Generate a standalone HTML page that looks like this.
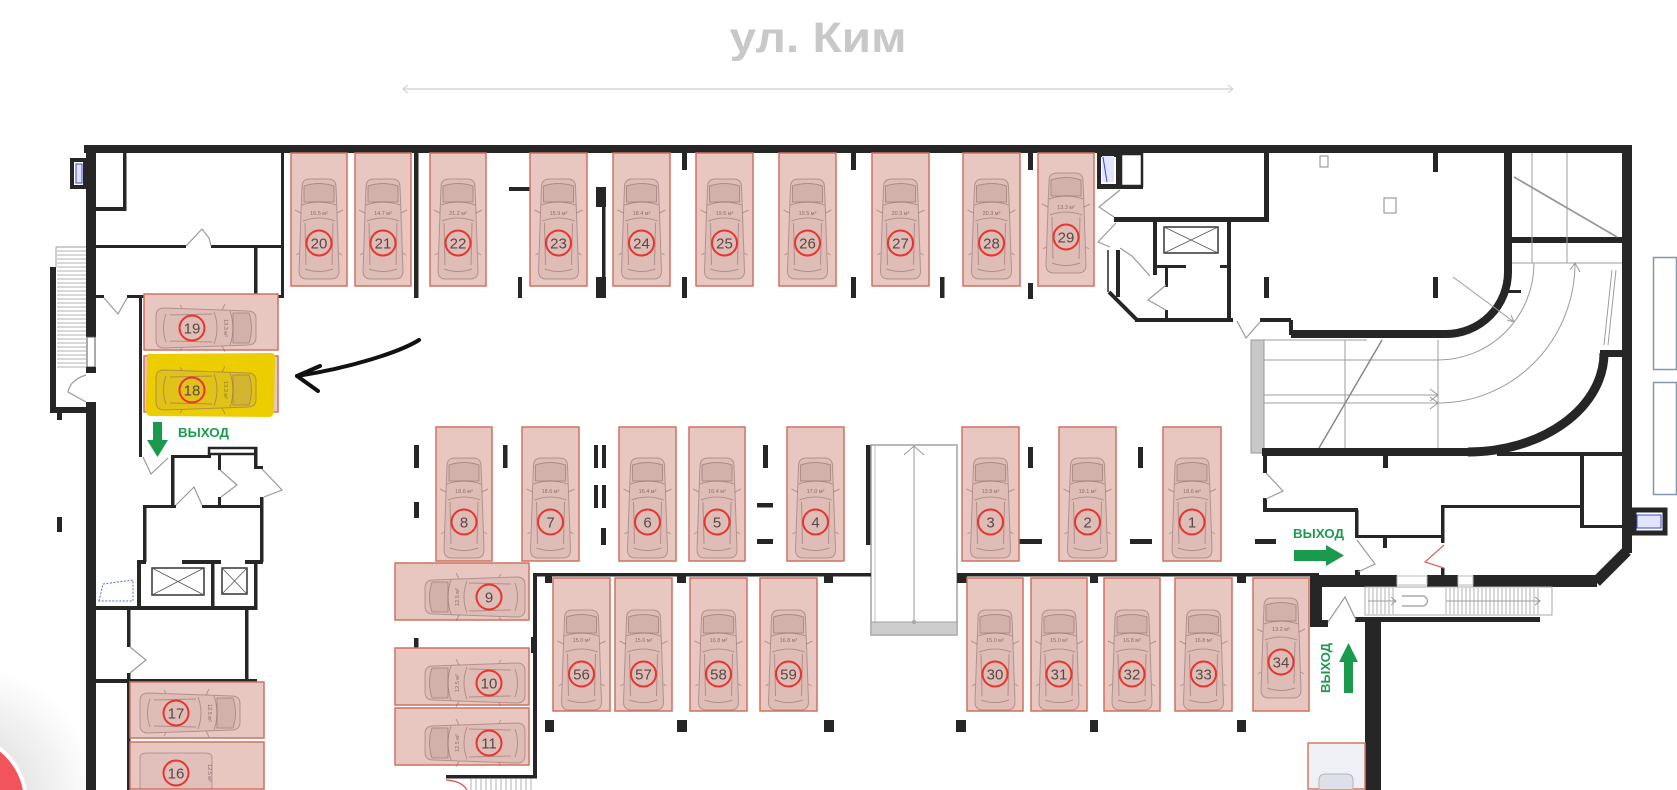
<!DOCTYPE html>
<html><head><meta charset="utf-8">
<style>
html,body{margin:0;padding:0;background:#fff;width:1677px;height:790px;overflow:hidden;}
svg{display:block;position:absolute;left:0;top:0;overflow:hidden;}
.sp{fill:#e9c7c1;stroke:#cf7260;stroke-width:1.5;}
.ci{fill:none;stroke:#e8342e;stroke-width:2;}
.nu{font-family:"Liberation Sans",sans-serif;font-size:15px;fill:#5a4646;text-anchor:middle;}
.ar{font-family:"Liberation Sans",sans-serif;font-size:5.5px;fill:#8a6e6c;text-anchor:middle;}
.w{fill:#262626;}
.dr{fill:none;stroke:#9a9a9a;stroke-width:1.2;}
.th{stroke:#9c9c9c;stroke-width:1;fill:none;}
.ex{font-family:"Liberation Sans",sans-serif;font-size:13px;font-weight:bold;fill:#1e9a50;}
</style></head>
<body>
<svg width="1677" height="790" viewBox="0 0 1677 790" xmlns="http://www.w3.org/2000/svg">
<defs>
<g id="car" fill="none" stroke="#8a6866" stroke-opacity="0.55" stroke-width="1">
  <path d="M-17 -56 Q-17 -64 -9 -64 L9 -64 Q17 -64 17 -56 L18 -30 L20 28 Q20 36 12 36 L-12 36 Q-20 36 -20 28 L-18 -30 Z" fill="#b08e8c" fill-opacity="0.18"/>
  <path d="M-15 -57 Q0 -62 15 -57 L15 -41 L-15 -41 Z" fill="#a88886" fill-opacity="0.22"/>
  <path d="M-17 -38 Q0 -44 17 -38"/>
  <path d="M-16 -22 Q0 -28 16 -22"/>
  <path d="M-18 -30 L-24 -33 M18 -30 L24 -33"/>
  <path d="M-14 -20 L-13 22 M14 -20 L13 22"/>
  <path d="M-14 26 Q0 31 14 26"/>
  <path d="M-20 10 L-23 12 M20 10 L23 12"/>
</g>
<radialGradient id="sh" gradientUnits="userSpaceOnUse" cx="-41" cy="802" r="140">
  <stop offset="0.45" stop-color="#000" stop-opacity="0.10"/>
  <stop offset="1" stop-color="#000" stop-opacity="0"/>
</radialGradient>
</defs>

<!-- floating button bottom-left (kept inside frame) -->
<rect x="0" y="660" width="100" height="130" fill="url(#sh)"/>
<path d="M0 746.5 A69 69 0 0 1 26.9 790 L0 790 Z" fill="#fff"/>
<path d="M0 751.6 A65 65 0 0 1 22.9 790 L0 790 Z" fill="#f2545c"/>

<!-- title -->
<text x="818" y="52" text-anchor="middle" font-family="Liberation Sans, sans-serif" font-weight="bold" font-size="43" fill="#c8c8c8" textLength="177" lengthAdjust="spacingAndGlyphs">ул. Ким</text>
<line x1="403" y1="89" x2="1233" y2="89" stroke="#d6d6d6" stroke-width="1.5"/>
<path d="M408 85 L403 89 L408 93 M1228 85 L1233 89 L1228 93" stroke="#d6d6d6" stroke-width="1.2" fill="none"/>

<!-- outer walls -->
<rect class="w" x="84" y="145" width="1548" height="8"/>
<rect class="w" x="86" y="145" width="10" height="192"/>
<rect x="87" y="337" width="8" height="30" fill="#fff" stroke="#555" stroke-width="1"/>
<rect class="w" x="86" y="367" width="10" height="6"/>
<rect class="w" x="86" y="402" width="10" height="388"/>
<rect class="w" x="1622" y="145" width="10" height="408"/>
<path d="M1627 551 L1596 582" stroke="#262626" stroke-width="11" fill="none"/>
<rect x="72" y="160" width="13" height="27" fill="#fff" stroke="#262626" stroke-width="4"/>
<rect x="76" y="164" width="6" height="19" fill="#e0e3ff" stroke="#3a4ad0" stroke-width="1"/>

<!-- top-left interior -->
<rect class="w" x="123" y="153" width="3.5" height="58"/>
<rect class="w" x="96" y="207" width="30" height="4"/>
<rect class="w" x="96" y="245" width="90" height="3"/>
<rect class="w" x="211" y="245" width="73" height="3"/>
<rect class="w" x="254" y="245" width="3.5" height="51"/>
<rect class="w" x="281" y="153" width="3" height="145"/>
<rect class="w" x="96" y="295" width="8" height="3"/>
<rect class="w" x="127" y="295" width="157" height="3"/>
<rect class="w" x="139" y="296" width="3" height="161"/>

<!-- left stairs -->
<rect class="w" x="50" y="267" width="6" height="146"/>
<rect class="w" x="50" y="407" width="36" height="6"/>
<rect class="w" x="57" y="413" width="5" height="7"/>
<path class="th" d="M56 247 H86 M56 247 V267"/>
<path stroke="#b0b0b0" stroke-width="1" d="M57 251H86M57 255H86M57 259H86M57 263H86M57 267H86M57 271H86M57 275H86M57 279H86M57 283H86M57 287H86M57 291H86M57 295H86M57 299H86M57 303H86M57 307H86M57 311H86M57 315H86M57 319H86M57 323H86M57 327H86M57 331H86M57 335H86M57 339H86M57 343H86M57 347H86M57 351H86M57 355H86M57 359H86M57 363H86M57 367H86"/>
<rect class="w" x="57" y="517" width="5" height="15"/>

<!-- lower-left rooms -->
<rect class="w" x="171" y="455" width="40" height="3"/>
<rect x="209" y="448" width="47" height="6" fill="#fff" stroke="#262626" stroke-width="2.5"/>
<rect class="w" x="254" y="447" width="3.5" height="22"/>
<rect class="w" x="254" y="466" width="9" height="3"/>
<rect class="w" x="171" y="455" width="3.5" height="52"/>
<rect class="w" x="218" y="455" width="3" height="15"/>
<rect class="w" x="218" y="497" width="3" height="10"/>
<rect class="w" x="143" y="505" width="33" height="3"/>
<rect class="w" x="202" y="505" width="61" height="3"/>
<rect class="w" x="143" y="505" width="3.5" height="57"/>
<rect class="w" x="260" y="497" width="3.5" height="65"/>
<rect class="w" x="137" y="560" width="9" height="4"/>
<rect class="w" x="182" y="560" width="39" height="4"/>
<rect class="w" x="245" y="560" width="18" height="4"/>
<rect class="w" x="137" y="560" width="4" height="48"/>
<rect class="w" x="211" y="562" width="3.5" height="46"/>
<rect class="w" x="254" y="560" width="3.5" height="50"/>
<rect x="152" y="568" width="52" height="27" fill="#fff" stroke="#333" stroke-width="1.5"/>
<path d="M152 568 L204 595 M204 568 L152 595" stroke="#555" stroke-width="0.8"/>
<rect x="222" y="568" width="25" height="26" fill="#fff" stroke="#333" stroke-width="1.5"/>
<path d="M222 568 L247 594 M247 568 L222 594" stroke="#555" stroke-width="0.8"/>
<rect class="w" x="86" y="606" width="171" height="4"/>
<path d="M99 601 L103 584 L133 580 L133 601 Z" fill="none" stroke="#5a6ae0" stroke-width="1" stroke-dasharray="2 1.5"/>
<rect class="w" x="127" y="610" width="3.5" height="37"/>
<rect class="w" x="127" y="673" width="3.5" height="10"/>
<rect class="w" x="245" y="610" width="3.5" height="70"/>
<rect class="w" x="86" y="679" width="171" height="4"/>
<rect class="w" x="127" y="683" width="3.5" height="107"/>

<!-- middle dashes -->
<rect class="w" x="414" y="445" width="5" height="23"/>
<rect class="w" x="414" y="502" width="5" height="16"/>
<rect class="w" x="503" y="445" width="4.5" height="23"/>
<rect class="w" x="594" y="445" width="4" height="23"/>
<rect class="w" x="602" y="445" width="4" height="23"/>
<rect class="w" x="594" y="485" width="4" height="23"/>
<rect class="w" x="602" y="485" width="4" height="23"/>
<rect class="w" x="601" y="528" width="5" height="17"/>
<rect class="w" x="763" y="445" width="5" height="23"/>
<rect class="w" x="757" y="503" width="16" height="4.5"/>
<rect class="w" x="757" y="539" width="16" height="5"/>
<rect class="w" x="1028" y="447" width="5" height="21"/>
<rect class="w" x="1138" y="447" width="5" height="21"/>
<rect class="w" x="1019" y="539" width="23" height="5"/>
<rect class="w" x="1130" y="539" width="22" height="5"/>
<rect class="w" x="1255" y="539" width="21" height="5"/>

<!-- ramp -->
<rect class="w" x="866" y="445" width="6" height="100"/>
<rect x="871" y="445" width="86" height="190" fill="#fff" stroke="#a0a0a0" stroke-width="1.5"/>
<line x1="875" y1="446" x2="875" y2="622" stroke="#c0c0c0" stroke-width="1"/>
<rect x="871" y="622" width="86" height="13" fill="#cdcdcd" stroke="#a0a0a0" stroke-width="1"/>
<line x1="914" y1="446" x2="914" y2="622" stroke="#999" stroke-width="1"/>
<path d="M904 455 L914 446 L924 455" fill="none" stroke="#999" stroke-width="1"/>
<circle cx="914" cy="622" r="1.5" fill="none" stroke="#999" stroke-width="0.8"/>

<!-- middle walls & pillars -->
<rect class="w" x="534" y="573" width="337" height="3.5"/>
<rect class="w" x="957" y="573" width="362" height="3.5"/>
<rect class="w" x="545" y="576" width="7" height="7"/>
<rect class="w" x="677" y="576" width="9" height="7"/>
<rect class="w" x="824" y="576" width="9" height="7"/>
<rect class="w" x="957" y="576" width="10" height="7"/>
<rect class="w" x="1090" y="576" width="8" height="7"/>
<rect class="w" x="1237" y="576" width="9" height="7"/>
<rect class="w" x="545" y="720" width="9" height="12"/>
<rect class="w" x="677" y="720" width="10" height="12"/>
<rect class="w" x="824" y="720" width="10" height="12"/>
<rect class="w" x="956" y="720" width="10" height="12"/>
<rect class="w" x="1090" y="720" width="8" height="12"/>
<rect class="w" x="1237" y="720" width="9" height="12"/>
<rect class="w" x="533" y="573" width="4" height="205"/>
<rect class="w" x="531" y="637" width="6" height="16"/>
<rect class="w" x="446" y="775" width="91" height="3.5"/>
<path stroke="#b0b0b0" stroke-width="1" d="M471 779V790M476 779V790M481 779V790M486 779V790M491 779V790M496 779V790M501 779V790M506 779V790M511 779V790M516 779V790M521 779V790M526 779V790M531 779V790"/>
<path d="M446 780 Q462 781 467 790" fill="none" stroke="#e05050" stroke-width="1.2"/>
<rect class="w" x="414" y="638" width="4.5" height="14"/>

<!-- top row stubs -->
<rect class="w" x="414" y="153" width="4.5" height="145"/>
<rect class="w" x="509" y="187" width="21" height="4"/>
<rect class="w" x="518" y="277" width="4" height="21"/>
<rect class="w" x="602" y="187" width="3.5" height="111"/>
<rect class="w" x="596" y="187" width="10" height="20"/>
<rect class="w" x="596" y="277" width="10" height="21"/>
<rect class="w" x="682" y="153" width="5" height="17"/>
<rect class="w" x="851" y="153" width="5" height="17"/>
<rect class="w" x="1028" y="153" width="5" height="17"/>
<rect class="w" x="682" y="277" width="5" height="21"/>
<rect class="w" x="851" y="277" width="5" height="21"/>
<rect class="w" x="940" y="277" width="4.5" height="21"/>
<rect class="w" x="1028" y="283" width="5" height="16"/>

<!-- right of 29 -->
<rect x="1099" y="155" width="19" height="31" fill="#fff" stroke="#262626" stroke-width="4"/>
<rect x="1102" y="156" width="12" height="26" fill="#e2e5ff"/>
<path d="M1103 157 L1107 182" stroke="#3a4ad0" stroke-width="1"/>
<rect x="1121" y="154" width="21" height="32" fill="#fff" stroke="#262626" stroke-width="2.5"/>
<rect class="w" x="1097" y="186" width="46" height="3"/>
<rect class="w" x="1114" y="217" width="155" height="5"/>
<rect class="w" x="1264" y="153" width="5" height="69"/>
<rect class="w" x="1153" y="222" width="4" height="53"/>
<rect class="w" x="1157" y="265" width="29" height="3"/>
<rect class="w" x="1220" y="265" width="7" height="3"/>
<rect class="w" x="1227" y="222" width="4" height="98"/>
<rect x="1164" y="227" width="54" height="26" fill="#fff" stroke="#333" stroke-width="1.5"/>
<path d="M1164 227 L1218 253 M1218 227 L1164 253" stroke="#555" stroke-width="0.8"/>
<rect class="w" x="1165" y="268" width="3" height="19"/>
<rect class="w" x="1165" y="310" width="3" height="10"/>
<rect class="w" x="1135" y="318" width="98" height="4"/>
<rect class="w" x="1260" y="318" width="31" height="4"/>
<path d="M1109 292 L1137 320" stroke="#262626" stroke-width="4"/>
<line x1="1108" y1="250" x2="1108" y2="292" stroke="#262626" stroke-width="1.5"/>
<rect class="w" x="1116" y="250" width="4" height="47"/>
<rect class="w" x="1289" y="320" width="4" height="15"/>
<rect class="w" x="1291" y="330" width="155" height="8"/>
<path d="M1446 334 A62 62 0 0 0 1508 272" stroke="#262626" stroke-width="8" fill="none"/>
<rect class="w" x="1504" y="153" width="8" height="120"/>
<rect class="w" x="1433" y="153" width="5" height="19"/>
<rect class="w" x="1264" y="277" width="5" height="21"/>
<rect class="w" x="1433" y="277" width="5" height="21"/>
<rect x="1320" y="156" width="8" height="11" fill="none" stroke="#888" stroke-width="1"/>
<rect x="1384" y="198" width="12" height="15" fill="none" stroke="#888" stroke-width="1"/>
<rect class="w" x="1508" y="290" width="13" height="3"/>
<!-- right room -->
<rect class="w" x="1512" y="237" width="110" height="6"/>
<path class="th" d="M1532 153 V263 M1567 153 V263 M1512 263 H1622"/>
<path d="M1514 177 L1617 237" stroke="#999" stroke-width="1.8"/>
<!-- curved ramp -->
<rect x="1251" y="340" width="13" height="113" fill="#c8c8c8" stroke="#999" stroke-width="1"/>
<path class="th" d="M1264 340 H1367 M1264 360 H1438 M1264 395 H1438 M1264 403 H1438 M1345 340 V448 M1438 340 V448"/>
<path d="M1430 389 L1438 395 L1430 401 M1430 397 L1438 403 L1430 409" fill="none" stroke="#999" stroke-width="1"/>
<path d="M1382 340 L1319 448" stroke="#888" stroke-width="1.5"/>
<path class="th" d="M1438 360 A96 97 0 0 0 1534 263"/>
<path class="th" d="M1438 403 A137 140 0 0 0 1575 263"/>
<path d="M1570 270 L1575 263 L1580 272" fill="none" stroke="#999" stroke-width="1"/>
<path class="th" d="M1453 277 L1514 322 M1507 320 L1514 322 L1511 315"/>
<path class="th" d="M1612 270 L1604 345 M1616 270 L1608 345"/>
<rect class="w" x="1600" y="350" width="22" height="7"/>
<path d="M1604 353 A136 99 0 0 1 1468 452" stroke="#262626" stroke-width="9" fill="none"/>
<rect class="w" x="1262" y="448" width="206" height="8"/>
<rect class="w" x="1383" y="455" width="5" height="13"/>
<rect class="w" x="1497" y="452" width="125" height="4"/>
<rect class="w" x="1580" y="455" width="4" height="73"/>
<rect class="w" x="1580" y="525" width="42" height="3"/>
<rect class="w" x="1442" y="505" width="138" height="3"/>
<rect class="w" x="1441" y="505" width="3.5" height="38"/>
<rect class="w" x="1441" y="568" width="3.5" height="8"/>
<rect class="w" x="1263" y="448" width="4" height="25"/>
<rect class="w" x="1263" y="498" width="4" height="14"/>
<rect class="w" x="1263" y="508" width="95" height="4"/>
<rect class="w" x="1355" y="510" width="3.5" height="28"/>
<rect class="w" x="1355" y="535" width="89" height="3"/>
<rect class="w" x="1383" y="537" width="4" height="11"/>
<rect class="w" x="1355" y="570" width="5" height="6"/>
<rect class="w" x="1310" y="575" width="87" height="12"/>
<rect class="w" x="1427" y="575" width="31" height="12"/>
<rect class="w" x="1473" y="575" width="124" height="12"/>
<rect x="1397" y="576" width="30" height="9" fill="#fff" stroke="#bbb" stroke-width="1"/>
<rect x="1458" y="576" width="15" height="9" fill="#fff" stroke="#bbb" stroke-width="1"/>
<rect class="w" x="1310" y="575" width="12" height="52"/>
<rect class="w" x="1310" y="620" width="18" height="7"/>
<rect class="w" x="1355" y="617" width="185" height="5"/>
<rect class="w" x="1365" y="617" width="16" height="173"/>
<!-- bottom stairs -->
<rect x="1365" y="587" width="187" height="28" fill="none" stroke="#aaa" stroke-width="1"/>
<path stroke="#aaa" stroke-width="0.9" d="M1369 588V614M1373 588V614M1377 588V614M1381 588V614M1385 588V614M1389 588V614M1393 588V614M1446 588V614M1450 588V614M1454 588V614M1458 588V614M1462 588V614M1466 588V614M1470 588V614M1474 588V614M1478 588V614M1482 588V614M1486 588V614M1490 588V614M1494 588V614M1498 588V614M1502 588V614M1506 588V614M1510 588V614M1514 588V614M1518 588V614M1522 588V614M1526 588V614M1530 588V614M1534 588V614M1538 588V614"/>
<path class="th" d="M1368 601 H1396 M1391 597 L1396 601 L1391 605 M1446 601 H1540 M1535 597 L1540 601 L1535 605"/>
<path d="M1402 596 H1424 Q1431 601 1424 606 H1402" fill="none" stroke="#999" stroke-width="1.2"/>
<!-- right notch & boxes -->
<rect x="1634" y="510" width="31" height="23" fill="#fff" stroke="#262626" stroke-width="5"/>
<rect x="1637" y="515" width="24" height="13" fill="#e2e5ff" stroke="#3a4ad0" stroke-width="1"/>
<rect x="1653.5" y="257.5" width="23" height="112" fill="none" stroke="#8496ac" stroke-width="1.5"/>
<rect x="1653.5" y="382.5" width="23" height="112" fill="none" stroke="#8496ac" stroke-width="1.5"/>

<!-- doors -->
<path class="dr" d="M186 246 L202 229 L209 238 L211 246"/>
<path class="dr" d="M104 298 L118 314 L127 298"/>
<path class="dr" d="M86 375 Q70 380 68 392 L86 402"/>
<path class="dr" d="M143 457 L151 474 L168 458"/>
<path class="dr" d="M176 505 L194 487 L202 505"/>
<path class="dr" d="M220 470 L237 485 L221 497"/>
<path class="dr" d="M262 469 L282 490 L264 497"/>
<path class="dr" d="M130 647 L146 660 L130 673"/>
<path class="dr" d="M1120 190 L1099 207 L1114 217"/>
<path class="dr" d="M1116 223 L1098 242 L1110 247"/>
<path class="dr" d="M1120 248 L1132 256 L1150 276"/>
<path class="dr" d="M1166 285 L1148 300 L1166 310"/>
<path class="dr" d="M1237 321 L1246 338 L1260 322"/>
<path class="dr" d="M1266 473 L1283 491 L1266 499"/>
<path class="dr" d="M1357 540 L1375 564 L1358 572"/>
<path d="M1444 545 L1425 562 L1444 568" fill="none" stroke="#e06060" stroke-width="1.2"/>
<path class="dr" d="M1328 622 L1345 597 L1356 620"/>

<!-- ===== SPOTS row 1 ===== -->
<g>
<rect class="sp" x="291" y="153" width="56" height="133"/><use href="#car" x="319" y="243"/><text class="ar" x="319" y="215">16.5 м²</text><circle class="ci" cx="319" cy="243" r="12.5"/><text class="nu" x="319" y="248.5">20</text>
<rect class="sp" x="355" y="153" width="56" height="133"/><use href="#car" x="383" y="243"/><text class="ar" x="383" y="215">14.7 м²</text><circle class="ci" cx="383" cy="243" r="12.5"/><text class="nu" x="383" y="248.5">21</text>
<rect class="sp" x="430" y="153" width="56" height="133"/><use href="#car" x="458" y="243"/><text class="ar" x="458" y="215">21.2 м²</text><circle class="ci" cx="458" cy="243" r="12.5"/><text class="nu" x="458" y="248.5">22</text>
<rect class="sp" x="530" y="153" width="57" height="133"/><use href="#car" x="558.5" y="243"/><text class="ar" x="558.5" y="215">15.9 м²</text><circle class="ci" cx="558.5" cy="243" r="12.5"/><text class="nu" x="558.5" y="248.5">23</text>
<rect class="sp" x="613" y="153" width="57" height="133"/><use href="#car" x="641.5" y="243"/><text class="ar" x="641.5" y="215">18.4 м²</text><circle class="ci" cx="641.5" cy="243" r="12.5"/><text class="nu" x="641.5" y="248.5">24</text>
<rect class="sp" x="696" y="153" width="57" height="133"/><use href="#car" x="724.5" y="243"/><text class="ar" x="724.5" y="215">19.5 м²</text><circle class="ci" cx="724.5" cy="243" r="12.5"/><text class="nu" x="724.5" y="248.5">25</text>
<rect class="sp" x="779" y="153" width="57" height="133"/><use href="#car" x="807.5" y="243"/><text class="ar" x="807.5" y="215">19.5 м²</text><circle class="ci" cx="807.5" cy="243" r="12.5"/><text class="nu" x="807.5" y="248.5">26</text>
<rect class="sp" x="872" y="153" width="57" height="133"/><use href="#car" x="900.5" y="243"/><text class="ar" x="900.5" y="215">20.3 м²</text><circle class="ci" cx="900.5" cy="243" r="12.5"/><text class="nu" x="900.5" y="248.5">27</text>
<rect class="sp" x="963" y="153" width="57" height="133"/><use href="#car" x="991.5" y="243"/><text class="ar" x="991.5" y="215">20.3 м²</text><circle class="ci" cx="991.5" cy="243" r="12.5"/><text class="nu" x="991.5" y="248.5">28</text>
<rect class="sp" x="1038" y="153" width="56" height="133"/><use href="#car" x="1066" y="237"/><text class="ar" x="1066" y="209">13.3 м²</text><circle class="ci" cx="1066" cy="237" r="12.5"/><text class="nu" x="1066" y="242.5">29</text>
</g>

<!-- row 2 -->
<g>
<rect class="sp" x="436" y="427" width="56" height="134"/><use href="#car" x="464" y="522"/><text class="ar" x="464" y="493">18.6 м²</text><circle class="ci" cx="464" cy="522" r="12.5"/><text class="nu" x="464" y="527.5">8</text>
<rect class="sp" x="522" y="427" width="57" height="134"/><use href="#car" x="550.5" y="522"/><text class="ar" x="550.5" y="493">18.6 м²</text><circle class="ci" cx="550.5" cy="522" r="12.5"/><text class="nu" x="550.5" y="527.5">7</text>
<rect class="sp" x="619" y="427" width="57" height="134"/><use href="#car" x="647.5" y="522"/><text class="ar" x="647.5" y="493">16.4 м²</text><circle class="ci" cx="647.5" cy="522" r="12.5"/><text class="nu" x="647.5" y="527.5">6</text>
<rect class="sp" x="689" y="427" width="56" height="134"/><use href="#car" x="717" y="522"/><text class="ar" x="717" y="493">16.4 м²</text><circle class="ci" cx="717" cy="522" r="12.5"/><text class="nu" x="717" y="527.5">5</text>
<rect class="sp" x="787" y="427" width="57" height="134"/><use href="#car" x="815.5" y="522"/><text class="ar" x="815.5" y="493">17.0 м²</text><circle class="ci" cx="815.5" cy="522" r="12.5"/><text class="nu" x="815.5" y="527.5">4</text>
<rect class="sp" x="962" y="427" width="57" height="134"/><use href="#car" x="990.5" y="522"/><text class="ar" x="990.5" y="493">13.8 м²</text><circle class="ci" cx="990.5" cy="522" r="12.5"/><text class="nu" x="990.5" y="527.5">3</text>
<rect class="sp" x="1059" y="427" width="57" height="134"/><use href="#car" x="1087.5" y="522"/><text class="ar" x="1087.5" y="493">19.1 м²</text><circle class="ci" cx="1087.5" cy="522" r="12.5"/><text class="nu" x="1087.5" y="527.5">2</text>
<rect class="sp" x="1163" y="427" width="58" height="134"/><use href="#car" x="1192" y="522"/><text class="ar" x="1192" y="493">18.6 м²</text><circle class="ci" cx="1192" cy="522" r="12.5"/><text class="nu" x="1192" y="527.5">1</text>
</g>

<!-- row 3 -->
<g>
<rect class="sp" x="553" y="578" width="57" height="133"/><use href="#car" x="581.5" y="674"/><text class="ar" x="581.5" y="642">15.0 м²</text><circle class="ci" cx="581.5" cy="674" r="12.5"/><text class="nu" x="581.5" y="679.5">56</text>
<rect class="sp" x="615" y="578" width="57" height="133"/><use href="#car" x="643.5" y="674"/><text class="ar" x="643.5" y="642">15.0 м²</text><circle class="ci" cx="643.5" cy="674" r="12.5"/><text class="nu" x="643.5" y="679.5">57</text>
<rect class="sp" x="690" y="578" width="57" height="133"/><use href="#car" x="718.5" y="674"/><text class="ar" x="718.5" y="642">16.8 м²</text><circle class="ci" cx="718.5" cy="674" r="12.5"/><text class="nu" x="718.5" y="679.5">58</text>
<rect class="sp" x="760" y="578" width="57" height="133"/><use href="#car" x="788.5" y="674"/><text class="ar" x="788.5" y="642">16.8 м²</text><circle class="ci" cx="788.5" cy="674" r="12.5"/><text class="nu" x="788.5" y="679.5">59</text>
<rect class="sp" x="967" y="578" width="56" height="133"/><use href="#car" x="995" y="674"/><text class="ar" x="995" y="642">15.0 м²</text><circle class="ci" cx="995" cy="674" r="12.5"/><text class="nu" x="995" y="679.5">30</text>
<rect class="sp" x="1031" y="578" width="56" height="133"/><use href="#car" x="1059" y="674"/><text class="ar" x="1059" y="642">15.0 м²</text><circle class="ci" cx="1059" cy="674" r="12.5"/><text class="nu" x="1059" y="679.5">31</text>
<rect class="sp" x="1104" y="578" width="56" height="133"/><use href="#car" x="1132" y="674"/><text class="ar" x="1132" y="642">16.8 м²</text><circle class="ci" cx="1132" cy="674" r="12.5"/><text class="nu" x="1132" y="679.5">32</text>
<rect class="sp" x="1175" y="578" width="57" height="133"/><use href="#car" x="1203.5" y="674"/><text class="ar" x="1203.5" y="642">16.8 м²</text><circle class="ci" cx="1203.5" cy="674" r="12.5"/><text class="nu" x="1203.5" y="679.5">33</text>
<rect class="sp" x="1253" y="578" width="56" height="133"/><use href="#car" x="1281" y="662"/><text class="ar" x="1281" y="631">13.2 м²</text><circle class="ci" cx="1281" cy="662" r="12.5"/><text class="nu" x="1281" y="667.5">34</text>
</g>

<!-- partial spot bottom right -->
<rect x="1308" y="743" width="57" height="46" fill="#eef0f6" stroke="#d07a66" stroke-width="1.5"/>
<path d="M1319 789 L1319 780 Q1319 774 1326 774 L1346 774 Q1353 774 1353 780 L1353 789" fill="#dde0e8" stroke="#b0b4bc" stroke-width="1"/>

<!-- horizontal spots left -->
<rect class="sp" x="144" y="294" width="134" height="56"/>
<g transform="translate(192 328) rotate(90)"><use href="#car"/></g>
<text class="ar" transform="translate(224 328) rotate(90)">13.3 м²</text>
<circle class="ci" cx="192" cy="328" r="12.5"/><text class="nu" x="192" y="333.5">19</text>

<rect class="sp" x="144" y="356" width="134" height="56"/>
<path d="M147 354 L272 353 Q276 354 275 360 L274 412 Q273 418 266 417 L150 416 Q146 415 146 410 Z" fill="#ebcd00"/>
<g transform="translate(192 390) rotate(90)"><use href="#car"/></g>
<text class="ar" transform="translate(224 390) rotate(90)" style="fill:#8a7a30">13.3 м²</text>
<circle class="ci" cx="192" cy="390" r="12.5"/><text class="nu" x="192" y="395.5">18</text>

<rect class="sp" x="130" y="682" width="134" height="56"/>
<g transform="translate(176 713) rotate(90)"><use href="#car"/></g>
<text class="ar" transform="translate(208 713) rotate(90)">12.5 м²</text>
<circle class="ci" cx="176" cy="713" r="12.5"/><text class="nu" x="176" y="718.5">17</text>

<rect class="sp" x="130" y="742" width="134" height="47"/>
<path d="M140 789 L140 757 Q140 753 148 753 L204 753 Q212 753 212 757 L212 789" fill="#b08e8c" fill-opacity="0.12" stroke="#8a6866" stroke-opacity="0.5" stroke-width="1"/>
<text class="ar" transform="translate(208 773) rotate(90)">12.5 м²</text>
<circle class="ci" cx="176" cy="773" r="12.5"/><text class="nu" x="176" y="778.5">16</text>

<!-- horizontal spots middle -->
<rect class="sp" x="395" y="563" width="134" height="57"/>
<g transform="translate(489 597) rotate(-90)"><use href="#car"/></g>
<text class="ar" transform="translate(459 597) rotate(-90)">12.5 м²</text>
<circle class="ci" cx="489" cy="597" r="12.5"/><text class="nu" x="489" y="602.5">9</text>

<rect class="sp" x="395" y="648" width="134" height="57"/>
<g transform="translate(489 683) rotate(-90)"><use href="#car"/></g>
<text class="ar" transform="translate(459 683) rotate(-90)">12.5 м²</text>
<circle class="ci" cx="489" cy="683" r="12.5"/><text class="nu" x="489" y="688.5">10</text>

<rect class="sp" x="395" y="708" width="134" height="57"/>
<g transform="translate(489 743) rotate(-90)"><use href="#car"/></g>
<text class="ar" transform="translate(459 743) rotate(-90)">12.5 м²</text>
<circle class="ci" cx="489" cy="743" r="12.5"/><text class="nu" x="489" y="748.5">11</text>

<!-- exits -->
<text class="ex" x="178" y="437" textLength="51" lengthAdjust="spacingAndGlyphs">ВЫХОД</text>
<rect x="153" y="422" width="9" height="20" fill="#1a9a4c"/>
<path d="M147 440 L168 440 L157.5 457 Z" fill="#1a9a4c"/>
<text class="ex" x="1293" y="538" textLength="51" lengthAdjust="spacingAndGlyphs">ВЫХОД</text>
<rect x="1294" y="550" width="34" height="11" fill="#1a9a4c"/>
<path d="M1326 545 L1344 555.5 L1326 566 Z" fill="#1a9a4c"/>
<text class="ex" transform="translate(1330 693) rotate(-90)" textLength="50" lengthAdjust="spacingAndGlyphs">ВЫХОД</text>
<rect x="1344" y="660" width="9" height="33" fill="#1a9a4c"/>
<path d="M1339 662 L1348.5 643 L1358 662 Z" fill="#1a9a4c"/>

<!-- hand-drawn arrow -->
<path d="M419 340 C 400 352, 350 368, 297 376" fill="none" stroke="#111" stroke-width="4" stroke-linecap="round"/>
<path d="M320 366 L297 376 L318 391" fill="none" stroke="#111" stroke-width="4" stroke-linecap="round" stroke-linejoin="round"/>
</svg>
</body></html>
